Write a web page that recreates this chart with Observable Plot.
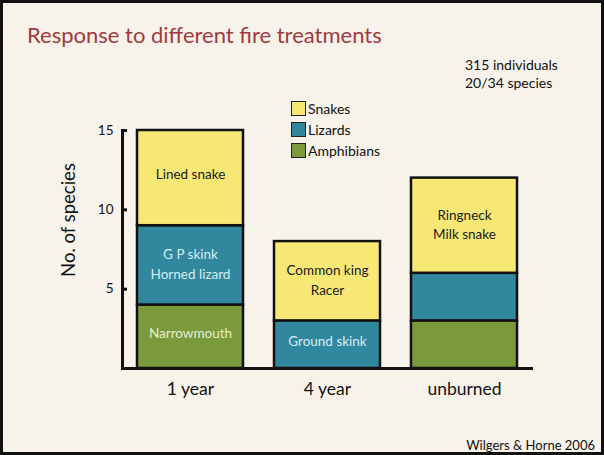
<!DOCTYPE html>
<html>
<head>
<meta charset="utf-8">
<script src="https://cdn.jsdelivr.net/npm/d3@7"></script>
<script src="https://cdn.jsdelivr.net/npm/@observablehq/plot@0.6"></script>
<style>
  html, body { margin: 0; padding: 0; background: #fff; }
  #page { position: relative; width: 604px; height: 455px; background: #f7f3ea; overflow: hidden;
          font-family: Lato, "Open Sans", sans-serif; color: #111; }
  #border { position: absolute; left: 0; top: 0; width: 604px; height: 455px; box-sizing: border-box;
            border: 3px solid #111; pointer-events: none; }
  #chart { position: absolute; left: 0; top: 0; }
  #title { position: absolute; left: 27px; top: 21px; font-size: 22px; color: #a13a3e; white-space: nowrap; }
  #note { position: absolute; left: 465px; top: 56px; font-size: 14px; line-height: 18px; white-space: nowrap; }
  #ylabel { position: absolute; left: 68px; top: 220px; transform: translate(-50%, -50%) rotate(-90deg);
            font-size: 18.5px; white-space: nowrap; }
  #legend { position: absolute; left: 291px; top: 98px; font-size: 14px; }
  .li { display: flex; align-items: center; height: 21px; }
  .sw { width: 13px; height: 13px; border: 1.5px solid #222; margin-right: 2px; }
  #credit { position: absolute; right: 9px; top: 437px; font-size: 13px; white-space: nowrap; }
</style>
</head>
<body>
<div id="page">
  <div id="chart"></div>
  <div id="title">Response to different fire treatments</div>
  <div id="note">315 individuals<br>20/34 species</div>
  <div id="ylabel">No. of species</div>
  <div id="legend"></div>
  <div id="credit">Wilgers &amp; Horne 2006</div>
  <div id="border"></div>
</div>
<script>
const categories = ["1 year", "4 year", "unburned"];
const groups = ["Amphibians", "Lizards", "Snakes"];          // bottom to top
const amphibians = [4, 0, 3];
const lizards = [5, 3, 3];
const snakes = [6, 5, 6];
const amphibianLabels = ["Narrowmouth", "", ""];
const lizardLabels = ["G P skink\nHorned lizard", "Ground skink", ""];
const snakeLabels = ["Lined snake", "Common king\nRacer", "Ringneck\nMilk snake"];
const groupColors = ["#7a9a3b", "#31879e", "#f7e876"];
const labelColors = ["#e6eed0", "#d6edf3", "#1b1b1b"];
const legendOrder = ["Snakes", "Lizards", "Amphibians"];
const yTicks = [5, 10, 15];

const series = [amphibians, lizards, snakes];
const labels = [amphibianLabels, lizardLabels, snakeLabels];
const rows = [];
categories.forEach((c, i) => {
  let base = 0;
  groups.forEach((g, j) => {
    const v = series[j][i];
    rows.push({category: c, group: g, y1: base, y2: base + v, mid: base + v / 2, label: labels[j][i], gi: j});
    base += v;
  });
});
const barRows = rows.filter(d => d.y2 > d.y1);
const single = d => d.label && !d.label.includes("\n");
const multi = d => d.label && d.label.includes("\n");

const plot = Plot.plot({
  width: 604,
  height: 455,
  marginTop: 130,
  marginBottom: 87,
  marginLeft: 122,
  marginRight: 71,
  style: {background: "transparent", fontFamily: "Lato, 'Open Sans', sans-serif", color: "#111"},
  x: {domain: categories, paddingInner: 0.226, paddingOuter: 0.11, label: null},
  y: {domain: [0, 15], label: null},
  color: {domain: groups, range: groupColors},
  marks: [
    Plot.barY(barRows, {x: "category", y1: "y1", y2: "y2", fill: "group", stroke: "#111", strokeWidth: 2.5}),
    ...groups.map((g, j) => Plot.text(rows.filter(d => d.gi === j && single(d)), {
      x: "category", y: "mid", text: "label", fill: labelColors[j], fontSize: 13.5, dy: -3
    })),
    ...groups.map((g, j) => Plot.text(rows.filter(d => d.gi === j && multi(d)), {
      x: "category", y: "mid", text: "label", fill: labelColors[j], fontSize: 13.5, lineHeight: 1.45, dy: -2.5
    })),
    Plot.axisY({ticks: yTicks, tickSize: -5, tickPadding: 14, fontSize: 13.5, strokeWidth: 3, label: null}),
    Plot.axisX({tickSize: 0, tickPadding: 14, fontSize: 17.5, label: null}),
    Plot.frame({anchor: "left", strokeWidth: 3, stroke: "#111"}),
    Plot.ruleY([0], {strokeWidth: 3, stroke: "#111"})
  ]
});
document.getElementById("chart").appendChild(plot);

const legend = document.getElementById("legend");
legendOrder.forEach(name => {
  const row = document.createElement("div");
  row.className = "li";
  const sw = document.createElement("div");
  sw.className = "sw";
  sw.style.background = groupColors[groups.indexOf(name)];
  const t = document.createElement("span");
  t.textContent = name;
  row.appendChild(sw);
  row.appendChild(t);
  legend.appendChild(row);
});
</script>
</body>
</html>
